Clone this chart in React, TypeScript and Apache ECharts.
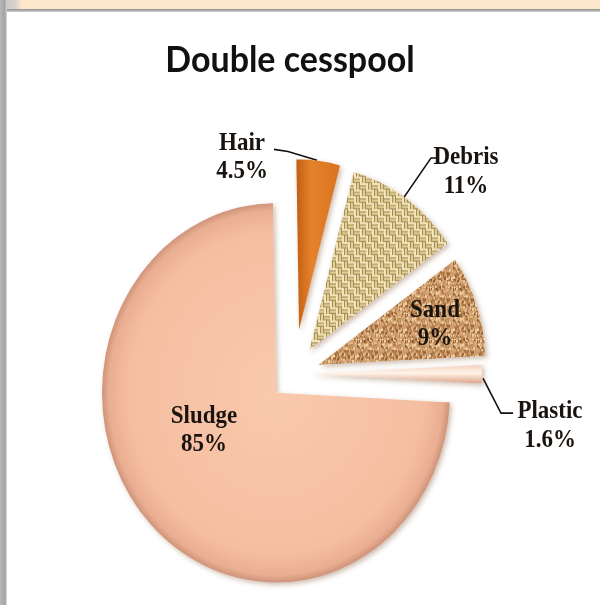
import React, { useEffect, useRef } from 'react';
import * as echarts from 'echarts';

const titleText = 'Double cesspool';
const categories = ['Hair', 'Debris', 'Sand', 'Plastic', 'Sludge'];
// slice sizes as drawn in the picture (share of the pie)
const values = [4.5, 11, 9, 1.6, 73.9];
// percentages printed on the labels
const labelPercents = ['4.5%', '11%', '9%', '1.6%', '85%'];

const STRETCH = 1.09;
const W = 600;
const H = 605;
const CH = Math.round(H / STRETCH);

const PIE_CENTER = [294, 343];
const START_ANGLE = 91;

type SliceStyle = {
  radius: number;
  offset: number;
  inside: boolean;
  lx: number;
  ly: number;
  line?: number[][];
};
const sliceStyles: SliceStyle[] = [
  { radius: 156, offset: 41, inside: false, lx: 242, ly: 143, line: [[274, 137], [288, 139], [317, 147]] },
  { radius: 169, offset: 27, inside: false, lx: 466, ly: 156, line: [[438, 145], [431, 145], [404, 181]] },
  { radius: 167, offset: 26, inside: true, lx: 435, ly: 296 },
  { radius: 172, offset: 16, inside: false, lx: 550, ly: 389, line: [[483, 347], [501, 379], [513, 379]] },
  { radius: 174, offset: 25, inside: true, lx: 204, ly: 393 },
];

function weaveTile(): HTMLCanvasElement {
  const c = document.createElement('canvas');
  c.width = 12;
  c.height = 12;
  const g = c.getContext('2d')!;
  g.fillStyle = '#a38d5a';
  g.fillRect(0, 0, 12, 12);
  for (let qy = 0; qy < 2; qy++) {
    for (let qx = 0; qx < 2; qx++) {
      const horiz = (qx + qy) % 2 === 0;
      const ox = qx * 6;
      const oy = qy * 6;
      for (let k = 0; k < 2; k++) {
        g.fillStyle = k === 0 ? '#f2e4b6' : '#e3cf96';
        if (horiz) g.fillRect(ox, oy + k * 3, 6, 2);
        else g.fillRect(ox + k * 3, oy, 2, 6);
      }
    }
  }
  return c;
}

function sandTile(): HTMLCanvasElement {
  const c = document.createElement('canvas');
  c.width = 24;
  c.height = 24;
  const g = c.getContext('2d')!;
  g.fillStyle = '#d29f6e';
  g.fillRect(0, 0, 24, 24);
  const cols = ['#a9713f', '#e6c08f', '#b8834f', '#f0d2a6', '#8e5a30'];
  let seed = 7;
  const next = () => {
    seed = (seed * 16807) % 2147483647;
    return seed / 2147483647;
  };
  for (let i = 0; i < 260; i++) {
    g.fillStyle = cols[Math.floor(next() * cols.length)];
    const s = next() < 0.3 ? 2 : 1;
    g.fillRect(Math.floor(next() * 24), Math.floor(next() * 24), s, s);
  }
  return c;
}

export default function App() {
  const ref = useRef<HTMLDivElement>(null);

  useEffect(() => {
    if (!ref.current) return;
    const chart = echarts.init(ref.current, null, { renderer: 'svg' });

    const shadow = {
      shadowBlur: 5,
      shadowOffsetX: 2,
      shadowOffsetY: 2,
      shadowColor: 'rgba(110,60,30,0.35)',
    };

    const fills: any[] = [
      {
        color: {
          type: 'linear', x: 0, y: 0, x2: 1, y2: 0,
          colorStops: [
            { offset: 0, color: '#c25f14' },
            { offset: 0.35, color: '#e6822c' },
            { offset: 1, color: '#d97321' },
          ],
        },
        ...shadow,
      },
      { color: { image: weaveTile(), repeat: 'repeat' }, ...shadow },
      { color: { image: sandTile(), repeat: 'repeat' }, ...shadow },
      {
        color: {
          type: 'linear', x: 0, y: 0, x2: 0, y2: 1,
          colorStops: [
            { offset: 0, color: '#f3d2bd' },
            { offset: 0.45, color: '#fff3e8' },
            { offset: 1, color: '#dca283' },
          ],
        },
        ...shadow,
      },
      {
        color: {
          type: 'radial', x: 0.5, y: 0.5, r: 0.5,
          colorStops: [
            { offset: 0, color: '#fac9ad' },
            { offset: 0.85, color: '#f5bea1' },
            { offset: 0.96, color: '#eaae92' },
            { offset: 1, color: '#cf937a' },
          ],
        },
        ...shadow,
      },
    ];

    const font = {
      fontFamily: '"Liberation Serif", "Times New Roman", serif',
      fontWeight: 'bold' as const,
      fontSize: 23,
      lineHeight: 26,
      color: '#1a1410',
      align: 'center' as const,
    };

    const total = values.reduce((a, b) => a + b, 0);
    let acc = 0;
    const series = categories.map((name, i) => {
      const st = sliceStyles[i];
      const a0 = START_ANGLE - (acc / total) * 360;
      acc += values[i];
      const a1 = START_ANGLE - (acc / total) * 360;
      const mid = (((a0 + a1) / 2) * Math.PI) / 180;
      const cx = PIE_CENTER[0] + st.offset * Math.cos(mid);
      const cy = PIE_CENTER[1] - st.offset * Math.sin(mid);
      const layout: any = { x: st.lx, y: st.ly, align: 'center', verticalAlign: 'middle' };
      if (st.line) layout.labelLinePoints = st.line;
      return {
        type: 'pie',
        name,
        center: [cx, cy],
        radius: st.radius,
        startAngle: START_ANGLE,
        clockwise: true,
        avoidLabelOverlap: false,
        silent: true,
        emphasis: { disabled: true },
        z: i === 4 ? 1 : 2,
        labelLayout: layout,
        data: categories.map((n, j) => ({
          name: n,
          value: values[j],
          itemStyle: j === i ? fills[j] : { color: 'rgba(0,0,0,0)', borderWidth: 0 },
          label: {
            show: j === i,
            position: st.inside ? 'inside' : 'outside',
            formatter: `${n}\n${labelPercents[j]}`,
            ...font,
          },
          labelLine: {
            show: j === i && !st.inside,
            length: 12,
            length2: 12,
            smooth: false,
            lineStyle: { color: '#111', width: 1.5 },
          },
        })),
      };
    });

    chart.setOption({
      animation: false,
      backgroundColor: 'transparent',
      title: {
        text: titleText,
        left: 285,
        top: 31,
        textAlign: 'center',
        textStyle: {
          fontFamily: 'Lato, "Open Sans", sans-serif',
          fontWeight: 'bold',
          fontSize: 34,
          color: '#111',
        },
      },
      series,
    });

    return () => chart.dispose();
  }, []);

  return (
    <div
      style={{
        position: 'fixed',
        left: 0,
        top: 0,
        width: W,
        height: H,
        background: '#ffffff',
        overflow: 'hidden',
      }}
    >
      <div style={{ position: 'absolute', left: 0, top: 0, width: W, height: 9, background: '#fde8cc' }} />
      <div
        style={{
          position: 'absolute', left: 0, top: 0, width: 22, height: 9,
          background: 'linear-gradient(to right, #c4c4c4, #d8d2ca 70%, #fde8cc)',
        }}
      />
      <div
        style={{
          position: 'absolute', left: 0, top: 9, width: W, height: 3,
          background: 'linear-gradient(to bottom, #8f8f8f, #d0d0d0)',
        }}
      />
      <div
        style={{
          position: 'absolute', left: 0, top: 0, width: 7, height: H,
          background: 'linear-gradient(to right, #b8b8b8, #a4a4a4 70%, #dadada)',
        }}
      />
      <div
        ref={ref}
        style={{
          position: 'absolute',
          left: 0,
          top: 0,
          width: W,
          height: CH,
          transform: `scaleY(${STRETCH})`,
          transformOrigin: '0 0',
        }}
      />
    </div>
  );
}
